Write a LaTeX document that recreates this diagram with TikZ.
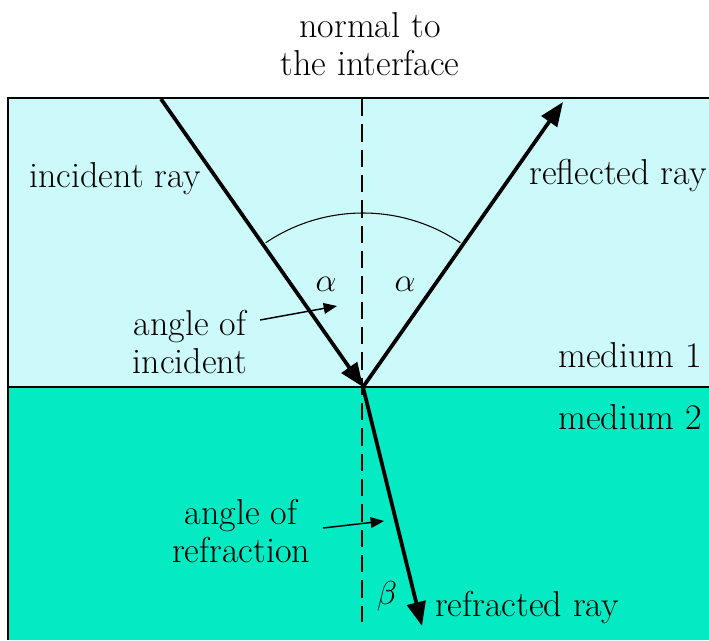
\documentclass[tikz,border=0pt]{standalone}
\usetikzlibrary{arrows.meta}
\definecolor{medone}{RGB}{204,250,250}
\definecolor{medtwo}{RGB}{4,234,194}
\begin{document}
\begin{tikzpicture}[x=0.75pt,y=-0.75pt,
  lbl/.style={font=\fontsize{27}{29}\selectfont, inner sep=0pt, align=center},
  ray/.style={line width=2.8pt, -{Triangle[length=18pt,width=14pt]}},
  pointer/.style={line width=1.1pt, -{Triangle[length=10pt,width=8pt]}},
  normalline/.style={line width=2pt, dash pattern=on 13pt off 6pt},
  border/.style={line width=1.4pt}]
\useasboundingbox (0,0) rectangle (709,640);
\fill[white] (0,0) rectangle (709,640);
\fill[medone] (8,98) rectangle (709,387);
\fill[medtwo] (8,387) rectangle (709,640);
\draw[border] (709,98) -- (8,98) -- (8,640);
\draw[border] (8,387) -- (709,387);
% key points
\coordinate (O) at (363,387);
\coordinate (inS) at (161,99);
\coordinate (reE) at (563,102);
\coordinate (rfE) at (422,626);
\coordinate (nTop) at (362,99);
\coordinate (nBot) at (362,622);
% normal
\draw[normalline] (nTop) -- (nBot);
% arc
\draw[line width=0.8pt] (O) ++(-124:174) arc[start angle=-124, end angle=-56, radius=174];
% rays
\draw[ray] (inS) -- (O);
\draw[ray] (O) -- (reE);
\draw[ray] (O) -- (rfE);
% labels
\node[lbl] (normal) at (370,44) {normal to\\the interface};
\node[lbl, anchor=base] (inc) at (115,187) {incident ray};
\node[lbl, anchor=base] (refl) at (618,184) {reflected ray};
\node[lbl] (a1) at (326,284) {$\alpha$};
\node[lbl] (a2) at (405,284) {$\alpha$};
\node[lbl] (aoi) at (190,342) {angle of\\incident};
\node[lbl] (m1) at (630,355) {medium 1};
\node[lbl] (m2) at (630,417) {medium 2};
\node[lbl] (aor) at (241,531) {angle of\\refraction};
\node[lbl] (b) at (387,596) {$\beta$};
\node[lbl, anchor=base] (refr) at (527,616) {refracted ray};
% pointers
\coordinate (p1s) at (260,320);
\coordinate (p1e) at (337,306);
\coordinate (p2s) at (323,528);
\coordinate (p2e) at (384,521);
\draw[pointer] (p1s) -- (p1e);
\draw[pointer] (p2s) -- (p2e);
\end{tikzpicture}
\end{document}
